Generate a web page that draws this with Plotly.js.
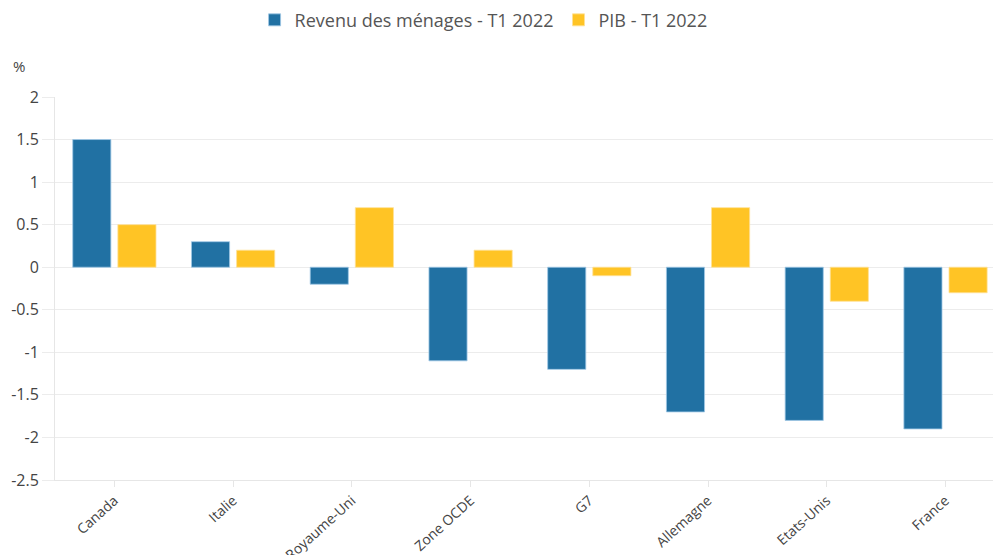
<!DOCTYPE html>
<html><head><meta charset="utf-8">
<script src="https://cdn.plot.ly/plotly-3.0.1.min.js"></script>
<style>html,body{margin:0;padding:0;background:#fff}#chart{width:993px;height:555px}</style>
</head><body><div id="chart"></div>
<script>
const categories = ["Canada","Italie","Royaume-Uni","Zone OCDE","G7","Allemagne","Etats-Unis","France"];
const revenu = [1.5, 0.3, -0.2, -1.1, -1.2, -1.7, -1.8, -1.9];
const pib = [0.5, 0.2, 0.7, 0.2, -0.1, 0.7, -0.4, -0.3];
const seriesNames = ["Revenu des ménages - T1 2022", "PIB - T1 2022"];
const yTicks = [2, 1.5, 1, 0.5, 0, -0.5, -1, -1.5, -2, -2.5];

const traces = [
  {type:'bar', name:seriesNames[0], x:categories, y:revenu,
   marker:{color:'#2171a3', line:{color:'rgba(160,200,230,0.8)', width:1}}},
  {type:'bar', name:seriesNames[1], x:categories, y:pib,
   marker:{color:'#ffc425', line:{color:'rgba(255,225,150,0.8)', width:1}}}
];
const layout = {
  width:993, height:555,
  margin:{l:55, r:0, t:97, b:75},
  paper_bgcolor:'#fff', plot_bgcolor:'#fff',
  barmode:'group', bargap:0.24, bargroupgap:0.155,
  font:{family:'Open Sans, sans-serif', color:'#444'},
  showlegend:true,
  legend:{orientation:'h', xref:'container', x:0.487, xanchor:'center', y:0.997, yref:'container', yanchor:'top',
    font:{family:'Open Sans, sans-serif', size:18, color:'#555'}, itemwidth:30, tracegroupgap:0},
  xaxis:{type:'category', range:[-0.5, 7.4], tickangle:-42, tickfont:{size:14, color:'#444'},
    showline:true, linecolor:'#e6e6e6', linewidth:1, ticks:'outside', ticklen:6, tickcolor:'#e6e6e6',
    showgrid:false, zeroline:false, fixedrange:true},
  yaxis:{range:[-2.5, 2], tickvals:yTicks, ticktext:yTicks.map(String), tickfont:{size:16, color:'#444'},
    showgrid:true, gridcolor:'#ececec', gridwidth:1, zeroline:false,
    showline:true, linecolor:'#e6e6e6', linewidth:1, ticks:'outside', ticklen:12, tickcolor:'#ececec', ticklabelstandoff:0},
  annotations:[{text:'%', xref:'paper', yref:'paper', x:-0.038, y:1.08, xanchor:'center', yanchor:'middle', showarrow:false,
    font:{size:15, color:'#444'}}]
};
Plotly.newPlot('chart', traces, layout, {displayModeBar:false, staticPlot:true});
</script></body></html>
